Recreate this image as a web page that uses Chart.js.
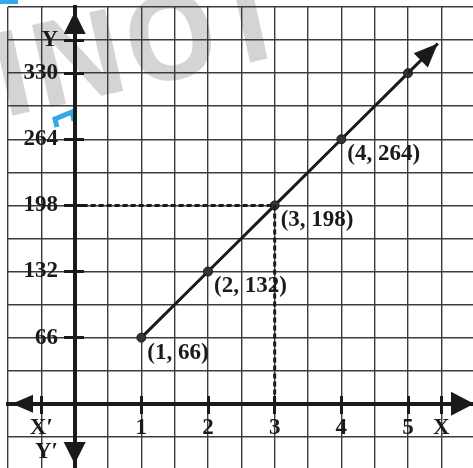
<!DOCTYPE html>
<html>
<head>
<meta charset="utf-8">
<script src="https://cdn.jsdelivr.net/npm/chart.js@4.4.0/dist/chart.umd.min.js"></script>
<style>
html, body { margin: 0; padding: 0; background: #fff; overflow: hidden; }
#wrap { position: absolute; left: 0; top: 0; width: 520px; height: 520px; }
</style>
</head>
<body>
<div id="wrap"><canvas id="graph" width="520" height="520"></canvas></div>
<script>
// points of the line y = 66x
var xValues = [1, 2, 3, 4, 5];
var yValues = [66, 132, 198, 264, 330];

var guideX = 3;
var guideY = 198;

// labelled ticks on the two axes
var xTicks = [-0.5, 1, 2, 3, 4, 5, 5.5];
var xTickLabels = ["X\u2032", "1", "2", "3", "4", "5", "X"];
var yTicks = [-48, 66, 132, 198, 264, 330, 363];
var yTickLabels = ["Y\u2032", "66", "132", "198", "264", "330", "Y"];

var ink = '#1a1a1a';
var gridInk = '#3c3c3c';
var serif = { family: '"Liberation Serif", "Times New Roman", serif', size: 23, weight: 'bold' };

function arrowHead(ctx, x, y, angle, len, half) {
	ctx.save();
	ctx.translate(x, y);
	ctx.rotate(angle);
	ctx.beginPath();
	ctx.moveTo(0, 0);
	ctx.lineTo(-len, -half);
	ctx.lineTo(-len, half);
	ctx.closePath();
	ctx.fill();
	ctx.restore();
}

// faint print-through and a blue pen mark behind the grid
var backdrop = {
	id: 'backdrop',
	beforeDraw: function(chart) {
		var ctx = chart.ctx;
		ctx.save();
		ctx.fillStyle = 'rgba(0, 0, 0, 0.17)';
		ctx.font = 'bold 118px "Open Sans", sans-serif';
		ctx.translate(2, 118);
		ctx.rotate(-0.22);
		ctx.fillText('INOT', 0, 0);
		ctx.restore();

		ctx.save();
		ctx.strokeStyle = '#34a9e6';
		ctx.fillStyle = '#34a9e6';
		ctx.lineWidth = 5;
		ctx.lineJoin = 'miter';
		ctx.beginPath();
		ctx.moveTo(57, 127);
		ctx.lineTo(55, 119);
		ctx.lineTo(72, 112);
		ctx.lineTo(74, 121);
		ctx.stroke();
		ctx.fillRect(0, 0, 18, 4);
		ctx.restore();
	}
};

// arrow heads on both axes, plus the arrow continuing the line past (5, 330)
var arrows = {
	id: 'arrows',
	afterDatasetsDraw: function(chart) {
		var ctx = chart.ctx, area = chart.chartArea;
		var sx = chart.scales.x, sy = chart.scales.y;
		var x0 = sx.getPixelForValue(0), y0 = sy.getPixelForValue(0);
		ctx.save();
		ctx.fillStyle = ink;
		ctx.strokeStyle = ink;
		arrowHead(ctx, x0, area.top + 5, -Math.PI / 2, 22, 11);
		arrowHead(ctx, x0, sy.getPixelForValue(-60), Math.PI / 2, 22, 11);
		arrowHead(ctx, area.left + 4, y0, Math.PI, 21, 9);
		arrowHead(ctx, sx.getPixelForValue(5.99), y0, 0, 23, 12);

		var pts = chart.getDatasetMeta(1).data;
		var a = pts[pts.length - 2], b = pts[pts.length - 1];
		var dx = b.x - a.x, dy = b.y - a.y, d = Math.sqrt(dx * dx + dy * dy);
		var ex = b.x + dx / d * 42, ey = b.y + dy / d * 42;
		ctx.lineWidth = 3;
		ctx.beginPath();
		ctx.moveTo(b.x, b.y);
		ctx.lineTo(ex, ey);
		ctx.stroke();
		arrowHead(ctx, ex, ey, Math.atan2(dy, dx), 24, 10);
		ctx.restore();
	}
};

// coordinate labels beside the plotted points
var pointLabels = {
	id: 'pointLabels',
	afterDatasetsDraw: function(chart) {
		var ctx = chart.ctx;
		var pts = chart.getDatasetMeta(1).data;
		ctx.save();
		ctx.font = 'bold 23px "Liberation Serif", serif';
		ctx.fillStyle = ink;
		ctx.textBaseline = 'middle';
		for (var i = 0; i < pts.length - 1; i++) {
			ctx.fillText('(' + xValues[i] + ', ' + yValues[i] + ')', pts[i].x + 6, pts[i].y + 15);
		}
		ctx.restore();
	}
};

function fixedTicks(list) {
	return function(scale) {
		scale.ticks = list.map(function(v) { return { value: v }; });
	};
}

// axes sitting inside the plot must not push the plot area inwards
function noPadding(scale) {
	scale.paddingTop = scale.paddingBottom = scale.paddingLeft = scale.paddingRight = 0;
}

function tickInk(c) {
	return c.tick && c.tick.value === -48 ? 'transparent' : ink;
}

var plainGrid = { color: gridInk, lineWidth: 1.4, drawTicks: false };

var chart = new Chart(document.getElementById('graph'), {
	type: 'scatter',
	data: {
		datasets: [{
			// dashed guides from the axes to (3, 198)
			data: [{ x: 0, y: guideY }, { x: guideX, y: guideY }, { x: guideX, y: 0 }],
			showLine: true,
			borderColor: ink,
			borderWidth: 3,
			borderDash: [5, 3],
			pointRadius: 0
		}, {
			data: xValues.map(function(x, i) { return { x: x, y: yValues[i] }; }),
			showLine: true,
			borderColor: ink,
			borderWidth: 3,
			pointRadius: 4.5,
			pointBackgroundColor: '#333',
			pointBorderColor: ink,
			pointBorderWidth: 1
		}]
	},
	options: {
		responsive: false,
		animation: false,
		devicePixelRatio: 1,
		layout: { padding: { left: 8, top: 7, right: 12, bottom: 17 } },
		plugins: { legend: { display: false }, tooltip: { enabled: false } },
		scales: {
			x: {
				type: 'linear', min: -1, max: 6.5,
				ticks: { display: false, stepSize: 0.5 },
				grid: plainGrid,
				border: { display: false }
			},
			y: {
				type: 'linear', min: -99, max: 396,
				ticks: { display: false, stepSize: 33 },
				grid: plainGrid,
				border: { display: false }
			},
			xAxis: {
				type: 'linear', axis: 'x', position: { y: 0 }, min: -1, max: 6.5,
				afterBuildTicks: fixedTicks(xTicks),
				afterFit: noPadding,
				ticks: {
					autoSkip: false, maxRotation: 0, padding: 2, color: ink, font: serif,
					callback: function(v) { return xTickLabels[xTicks.indexOf(v)]; }
				},
				grid: { drawOnChartArea: false, tickLength: 8, tickWidth: 3, tickColor: ink },
				border: { width: 4, color: ink }
			},
			xMarks: {
				type: 'linear', axis: 'x', position: { y: 0 }, min: -1, max: 6.5,
				afterBuildTicks: fixedTicks(xTicks),
				afterFit: noPadding,
				ticks: { display: false },
				grid: { drawOnChartArea: false, tickLength: -8, tickWidth: 3, tickColor: ink },
				border: { display: false }
			},
			yLabels: {
				// tick labels sit a little left of the y axis
				type: 'linear', axis: 'y', position: { x: -0.25 }, min: -99, max: 396,
				afterBuildTicks: fixedTicks(yTicks),
				afterFit: noPadding,
				ticks: {
					autoSkip: false, color: ink, font: serif,
					callback: function(v) { return yTickLabels[yTicks.indexOf(v)]; }
				},
				grid: { drawOnChartArea: false, drawTicks: false },
				border: { display: false }
			},
			yAxis: {
				type: 'linear', axis: 'y', position: { x: 0 }, min: -99, max: 396,
				afterBuildTicks: fixedTicks(yTicks),
				afterFit: noPadding,
				ticks: { display: false },
				grid: { drawOnChartArea: false, tickLength: 9, tickWidth: 3, tickColor: tickInk },
				border: { width: 4, color: ink }
			},
			yMarks: {
				type: 'linear', axis: 'y', position: { x: 0 }, min: -99, max: 396,
				afterBuildTicks: fixedTicks(yTicks),
				afterFit: noPadding,
				ticks: { display: false },
				grid: { drawOnChartArea: false, tickLength: -9, tickWidth: 3, tickColor: tickInk },
				border: { display: false }
			}
		}
	},
	plugins: [backdrop, arrows, pointLabels]
});
</script>
</body>
</html>
